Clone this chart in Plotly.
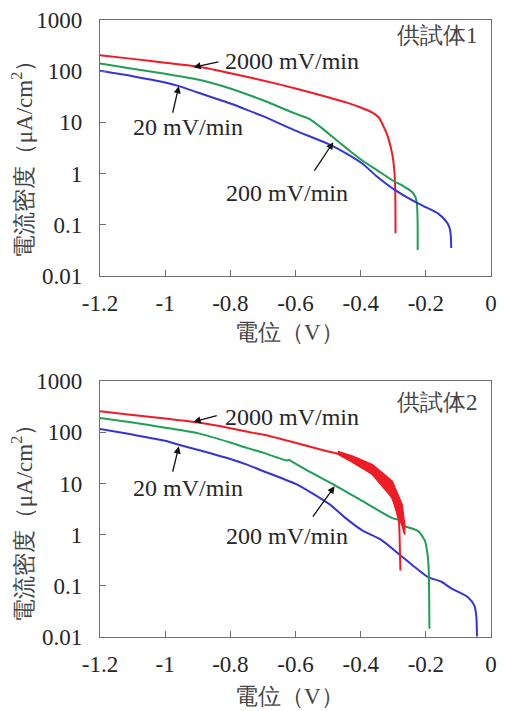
import numpy as np
import plotly.graph_objects as go

# ---------------- data (potential V, current density uA/cm2) ----------------
# Specimen 1
s1_red_x = [-1.2, -1.1, -1.0, -0.9, -0.8, -0.7, -0.6, -0.5, -0.44, -0.40, -0.364,
            -0.345, -0.333, -0.320, -0.313, -0.303, -0.298, -0.296, -0.294, -0.293]
s1_red_y = [204, 174, 146, 123, 91, 66, 46, 31, 24, 19.5, 15.5,
            12.6, 9.2, 6.0, 4.4, 2.4, 1.4, 1.0, 0.5, 0.068]
s1_grn_x = [-1.2, -1.1, -1.0, -0.9, -0.8, -0.7, -0.6, -0.555, -0.52, -0.485,
            -0.44, -0.394, -0.35, -0.303, -0.27, -0.243, -0.233, -0.228, -0.226, -0.225, -0.225]
s1_grn_y = [141, 112, 89, 69, 46, 27, 14.8, 11.5, 7.8, 5.1,
            3.0, 1.78, 1.17, 0.74, 0.575, 0.44, 0.36, 0.28, 0.18, 0.08, 0.032]
s1_blu_x = [-1.2, -1.1, -1.0, -0.958, -0.898, -0.8, -0.747, -0.7, -0.6, -0.5, -0.45,
            -0.394, -0.354, -0.293, -0.228, -0.2, -0.162, -0.137, -0.128, -0.124, -0.122]
s1_blu_y = [102, 80, 60, 51, 38, 23.4, 17.4, 13.2, 6.9, 3.8, 2.6,
            1.55, 0.92, 0.47, 0.27, 0.22, 0.165, 0.115, 0.09, 0.068, 0.035]

# Specimen 2
s2_red_x = [-1.2, -1.1, -1.0, -0.898, -0.8, -0.747, -0.7, -0.595, -0.5, -0.47,
            -0.424, -0.344, -0.303, -0.283, -0.280, -0.278]
s2_red_y = [257, 218, 186, 155, 120, 102, 90, 61, 42, 38,
            26, 12.8, 5.2, 1.86, 0.63, 0.2]
s2_band_x = [-0.47, -0.424, -0.364, -0.303, -0.273, -0.265]
s2_band_hi = [42, 34, 23.4, 11, 3.9, 1.6]
s2_band_lo = [38, 26, 15, 5.2, 1.5, 1.0]
s2_grn_x = [-1.2, -1.1, -1.0, -0.898, -0.8, -0.747, -0.7, -0.625, -0.62, -0.612, -0.55, -0.48,
            -0.394, -0.303, -0.28, -0.27, -0.253, -0.223, -0.203, -0.195, -0.191, -0.190, -0.189]
s2_grn_y = [190, 155, 123, 95, 63, 49, 40, 28, 29, 27, 16, 9.3,
            4.5, 2.1, 1.9, 1.5, 1.38, 1.17, 0.76, 0.42, 0.2, 0.08, 0.0145]
s2_blu_x = [-1.2, -1.1, -1.0, -0.958, -0.898, -0.8, -0.747, -0.7, -0.595, -0.495, -0.45,
            -0.394, -0.338, -0.283, -0.24, -0.193, -0.152, -0.122, -0.071, -0.051, -0.045, -0.043]
s2_blu_y = [116, 90, 68, 57, 45, 30, 23, 17.5, 9.5, 3.9, 2.2,
            1.2, 0.80, 0.42, 0.25, 0.148, 0.12, 0.089, 0.060, 0.041, 0.025, 0.0102]

x_tickvals = [-1.2, -1.0, -0.8, -0.6, -0.4, -0.2, 0.0]
x_ticktext = ["-1.2", "-1", "-0.8", "-0.6", "-0.4", "-0.2", "0"]
y_tickvals = [0.01, 0.1, 1, 10, 100, 1000]
y_ticktext = ["0.01", "0.1", "1", "10", "100", "1000"]

rate_labels = ["2000 mV/min", "20 mV/min", "200 mV/min"]
specimen_labels = ["供試体1", "供試体2"]
x_title = "電位（V）"
y_title = "電流密度（μA/cm<sup>2</sup>）"

# annotation positions: (text x, text y, arrow tail x, tail y, tip x, tip y)
ann_s1 = [(-0.611, 155, -0.832, 155, -0.913, 119),
          (-0.931, 8.2, -0.978, 14.4, -0.958, 51),
          (-0.626, 0.41, -0.545, 1.07, -0.484, 4.1)]
ann_s2 = [(-0.611, 200, -0.837, 216, -0.913, 160),
          (-0.931, 8.2, -0.978, 15.8, -0.958, 53),
          (-0.626, 0.95, -0.55, 2.1, -0.48, 8.8)]
spec_pos = [(-0.163, 490), (-0.163, 380)]

RED = "#ee1c25"
GRN = "#1f9e55"
BLU = "#3434d6"
FONT = "Liberation Serif"
TXT = "#262626"
FS = 23
FS_ANN = 24

fig = go.Figure()

def line(x, y, c, xa, ya):
    fig.add_trace(go.Scatter(x=x, y=y, mode="lines",
                             line=dict(color=c, width=2, shape="spline", smoothing=0.6),
                             xaxis=xa, yaxis=ya, showlegend=False, hoverinfo="skip"))

line(s1_red_x, s1_red_y, RED, "x", "y")
line(s1_grn_x, s1_grn_y, GRN, "x", "y")
line(s1_blu_x, s1_blu_y, BLU, "x", "y")

line(s2_blu_x, s2_blu_y, BLU, "x2", "y2")
line(s2_grn_x, s2_grn_y, GRN, "x2", "y2")
line(s2_red_x, s2_red_y, RED, "x2", "y2")
fig.add_trace(go.Scatter(x=s2_band_x + s2_band_x[::-1], y=s2_band_hi + s2_band_lo[::-1],
                         mode="lines", fill="toself", fillcolor=RED,
                         line=dict(color=RED, width=1.5), xaxis="x2", yaxis="y2",
                         showlegend=False, hoverinfo="skip"))

ax_common = dict(showline=True, linecolor="#6e6e6e", linewidth=1.2, mirror=True,
                 ticks="inside", ticklen=6, tickcolor="#6e6e6e", showgrid=False,
                 zeroline=False, tickfont=dict(family=FONT, size=FS, color=TXT))
xcfg = dict(range=[-1.2, 0], tickmode="array", tickvals=x_tickvals, ticktext=x_ticktext,
            ticklabelstandoff=6, **ax_common)
ycfg = dict(type="log", range=[-2, 3], tickmode="array", tickvals=y_tickvals,
            ticktext=y_ticktext, ticklabelstandoff=12, **ax_common)

top_dom = [0.5852, 1.0]
bot_dom = [0.0, 0.4148]

fig.update_layout(
    width=505, height=711,
    margin=dict(l=100, r=8, t=15, b=74),
    paper_bgcolor="white", plot_bgcolor="white",
    font=dict(family=FONT, size=FS, color=TXT),
    xaxis=dict(domain=[0, 1], anchor="y", **xcfg),
    yaxis=dict(domain=top_dom, anchor="x", **ycfg),
    xaxis2=dict(domain=[0, 1], anchor="y2", **xcfg),
    yaxis2=dict(domain=bot_dom, anchor="x2", **ycfg),
)

anns = []
for (anlist, xr, yr) in [(ann_s1, "x", "y"), (ann_s2, "x2", "y2")]:
    for lab, (tx, ty, ax_, ay_, hx, hy) in zip(rate_labels, anlist):
        anns.append(dict(x=tx, y=np.log10(ty), xref=xr, yref=yr, text=lab,
                         showarrow=False, xanchor="center", yanchor="middle",
                         font=dict(family=FONT, size=FS_ANN, color=TXT)))
        anns.append(dict(x=hx, y=np.log10(hy), ax=ax_, ay=np.log10(ay_),
                         xref=xr, yref=yr, axref=xr, ayref=yr, text="",
                         showarrow=True, arrowhead=2, arrowsize=1.1, arrowwidth=1.3,
                         arrowcolor="#111111"))
for lab, (sx, sy), xr, yr in zip(specimen_labels, spec_pos, ["x", "x2"], ["y", "y2"]):
    anns.append(dict(x=sx, y=np.log10(sy), xref=xr, yref=yr, text=lab, showarrow=False,
                     xanchor="center", yanchor="middle",
                     font=dict(family=FONT, size=FS, color="#444444")))

# axis titles
for yc in [0.783, 0.193]:
    anns.append(dict(x=-0.196, y=yc, xref="paper", yref="paper", text=y_title,
                     textangle=-90, showarrow=False, xanchor="center", yanchor="middle",
                     font=dict(family=FONT, size=FS, color="#444444")))
for yc in [0.4936, -0.0965]:
    anns.append(dict(x=0.4836, y=yc, xref="paper", yref="paper", text=x_title,
                     showarrow=False, xanchor="center", yanchor="middle",
                     font=dict(family=FONT, size=FS, color="#444444")))

fig.update_layout(annotations=anns)
fig.write_html("out.html")
